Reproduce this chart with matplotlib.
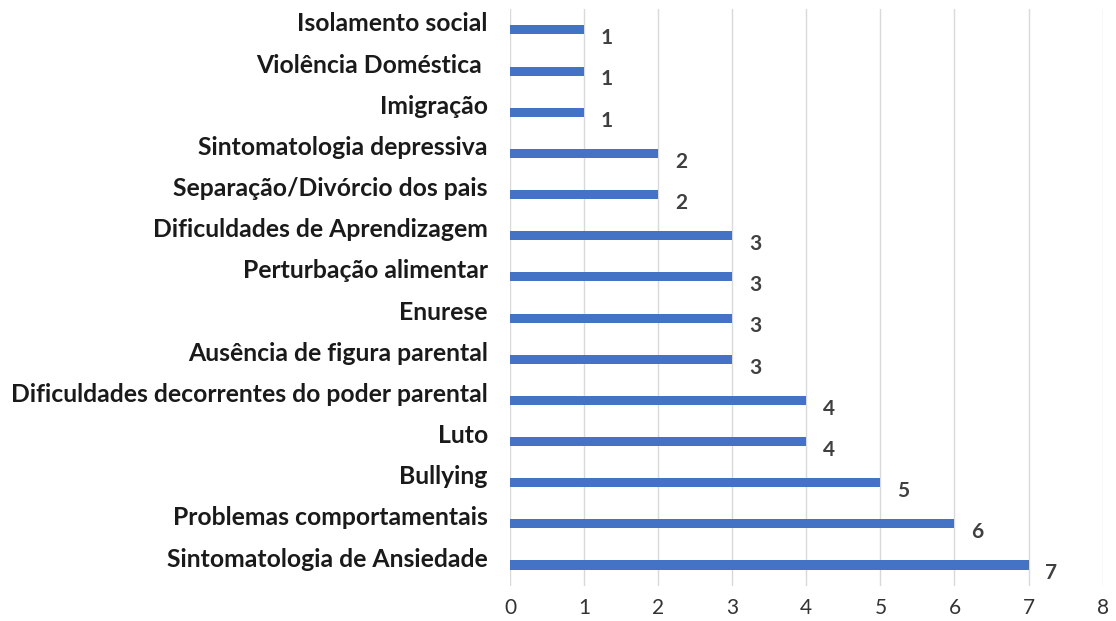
import matplotlib
matplotlib.use("Agg")
import matplotlib.pyplot as plt
import matplotlib.transforms as mtransforms

categories = [
    "Isolamento social",
    "Violência Doméstica ",
    "Imigração",
    "Sintomatologia depressiva",
    "Separação/Divórcio dos pais",
    "Dificuldades de Aprendizagem",
    "Perturbação alimentar",
    "Enurese",
    "Ausência de figura parental",
    "Dificuldades decorrentes do poder parental",
    "Luto",
    "Bullying",
    "Problemas comportamentais",
    "Sintomatologia de Ansiedade",
]
values = [1, 1, 1, 2, 2, 3, 3, 3, 3, 4, 4, 5, 6, 7]
xticks = [0, 1, 2, 3, 4, 5, 6, 7, 8]

plt.rcParams['font.family'] = ['Lato', 'DejaVu Sans']

fig = plt.figure(figsize=(11.16, 6.21), dpi=100)
ax = fig.add_axes([0.457, 0.057, 0.531, 0.928])

ypos = list(range(len(categories)))
ax.barh(ypos, values, height=0.22, color='#4472C4', zorder=3)
ax.set_ylim(len(categories) - 0.5, -0.5)
ax.set_xlim(0, 8)

ax.set_yticks(ypos)
ax.set_yticklabels(categories, fontsize=17.8, fontweight='bold', color='#1a1a1a')
ax.tick_params(axis='y', length=0, pad=16)
# labels sit a little above their bars, like in the original
shift = mtransforms.ScaledTranslation(0, 8 / 100, fig.dpi_scale_trans)
for lbl in ax.get_yticklabels():
    lbl.set_transform(lbl.get_transform() + shift)

ax.set_xticks(xticks)
ax.set_xticklabels([str(t) for t in xticks], fontsize=15, color='#333333')
ax.tick_params(axis='x', length=0, pad=9)

ax.grid(axis='x', color='#d9d9d9', linewidth=1, zorder=0)
for s in ax.spines.values():
    s.set_visible(False)

for y, v in zip(ypos, values):
    ax.annotate(str(v), (v, y), xytext=(12, -6), textcoords='offset points',
                ha='left', va='center', fontsize=15, fontweight='bold',
                color='#404040')

fig.savefig("out.png", dpi=100)
